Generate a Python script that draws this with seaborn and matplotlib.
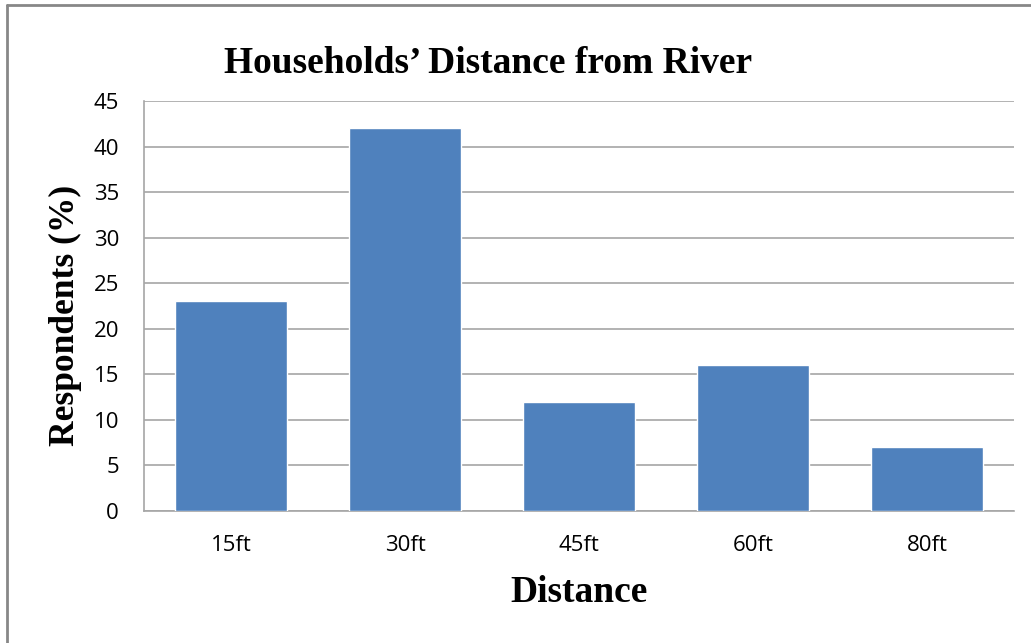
import matplotlib
matplotlib.use("Agg")
import matplotlib.pyplot as plt
from matplotlib.lines import Line2D
import seaborn as sns
import pandas as pd

categories = ["15ft", "30ft", "45ft", "60ft", "80ft"]
respondents_pct = [23, 42, 12, 16, 7]
y_ticks = [0, 5, 10, 15, 20, 25, 30, 35, 40, 45]

sns.set_style("white")
plt.rcParams["font.family"] = ["Open Sans", "DejaVu Sans"]
plt.rcParams["text.color"] = "black"

df = pd.DataFrame({"Distance": categories, "Respondents": respondents_pct})

fig = plt.figure(figsize=(10.31, 6.43), dpi=100)
ax = fig.add_axes([0.1397, 0.2053, 0.8438, 0.6376])

sns.barplot(data=df, x="Distance", y="Respondents", color="#4F81BD",
            saturation=1, width=0.645, ax=ax, zorder=3)

ax.set_ylim(0, 45)
ax.set_yticks(y_ticks)
ax.yaxis.grid(True, color="#A6A6A6", linewidth=1.2, zorder=0)
ax.set_axisbelow(True)
for side in ("top", "right"):
    ax.spines[side].set_visible(False)
for side in ("left", "bottom"):
    ax.spines[side].set_color("#A6A6A6")
    ax.spines[side].set_linewidth(1.2)
ax.tick_params(axis="both", length=0, labelsize=16, labelcolor="black")
ax.tick_params(axis="y", pad=18)
ax.tick_params(axis="x", pad=17)

serif = ["Liberation Serif", "DejaVu Serif"]
ax.set_xlabel("Distance", family=serif, fontweight="bold", fontsize=27, color="black")
ax.xaxis.label.set_va("center")
ax.xaxis.set_label_coords(0.5, -0.1976)
ax.set_ylabel("Respondents (%)", family=serif, fontweight="bold", fontsize=25.5, color="black")
ax.yaxis.label.set_va("center")
ax.yaxis.set_label_coords(-0.0908, 0.478)

fig.text(0.473, 0.902, "Households\u2019 Distance from River", family=serif,
         fontweight="bold", fontsize=27, ha="center", va="center", color="black")

# frame along the top and left edges
fig.add_artist(Line2D([0.0068, 0.0068], [0, 0.9922], transform=fig.transFigure,
                      color="#878787", linewidth=2))
fig.add_artist(Line2D([0.0068, 1.0], [0.9922, 0.9922], transform=fig.transFigure,
                      color="#878787", linewidth=2))

fig.savefig("out.png", dpi=100)
